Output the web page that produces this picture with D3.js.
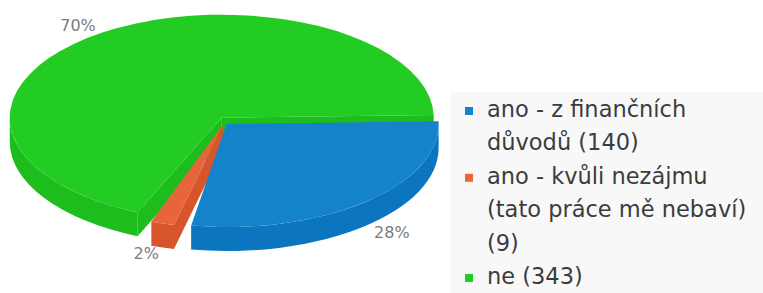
<!DOCTYPE html>
<html>
<head>
<meta charset="utf-8">
<script src="https://cdn.jsdelivr.net/npm/d3@7"></script>
<style>
    body { margin: 0; background: #fff; }
    svg { display: block; font-family: "DejaVu Sans", Verdana, sans-serif; }
</style>
</head>
<body>
<div class="canvas"></div>
<script>
// data
const categories = ["ano - z finančních důvodů", "ano - kvůli nezájmu (tato práce mě nebaví)", "ne"];
const counts = [140, 9, 343];
const topColors = ["#1583cc", "#e8643a", "#22cc22"];
const sideColors = ["#0b75bf", "#d8552b", "#1cbd1c"];

const dims = { width: 763, height: 293 };
const pieDims = { cx: 224, cy: 121, rx: 212, ry: 103, depth: 24, explode: 4, labelRx: 225, labelRy: 103 };
const legendDims = { x: 450, y: 92, width: 313, height: 201, lineHeight: 33.4, textWidth: 268 };

const svg = d3
    .select(".canvas")
    .append("svg")
    .attr("width", dims.width)
    .attr("height", dims.height);

const deg = Math.PI / 180;
const start = Math.PI / 2 - 1.5 * deg; // first slice starts just above 3 o'clock
const pad = 3.7 * deg;
const total = d3.sum(counts);
const pct = d3.format(".0%");

const pie = d3
    .pie()
    .sort(null)
    .startAngle(start)
    .endAngle(start + 2 * Math.PI)
    .padAngle(pad);

const n = counts.length;
const slices = pie(counts).map((d, i) => {
    // gaps only between neighbours, the last slice closes onto the first one
    const a0 = d.startAngle + (i > 0 ? d.padAngle / 2 : 0);
    const a1 = d.endAngle - (i < n - 1 ? d.padAngle / 2 : 0);
    const mid = (a0 + a1) / 2;
    return {
        ...d, i, a0, a1, mid,
        cx: pieDims.cx + pieDims.explode * Math.sin(mid),
        cy: pieDims.cy - pieDims.explode * Math.cos(mid)
    };
});

const { rx, ry, depth } = pieDims;
const pt = (s, a, dz) => [s.cx + rx * Math.sin(a), s.cy - ry * Math.cos(a) + dz];

function sidePath(s, b0, b1) {
    const large = b1 - b0 > Math.PI ? 1 : 0;
    return `M${pt(s, b0, 0)} A${rx},${ry} 0 ${large} 1 ${pt(s, b1, 0)}` +
        ` L${pt(s, b1, depth)} A${rx},${ry} 0 ${large} 0 ${pt(s, b0, depth)} Z`;
}

function wallPath(s, a) {
    return `M${s.cx},${s.cy} L${pt(s, a, 0)} L${pt(s, a, depth)} L${s.cx},${s.cy + depth} Z`;
}

// back slices first
const order = slices.slice().sort((a, b) => -Math.cos(a.mid) - -Math.cos(b.mid));

const sides = svg.append("g");
order.forEach((s) => {
    const g = sides.append("g").attr("fill", sideColors[s.i]);
    if (Math.sin(s.a0) < 0) g.append("path").attr("d", wallPath(s, s.a0));
    if (Math.sin(s.a1) > 0) g.append("path").attr("d", wallPath(s, s.a1));
    // front half of the rim: angles between PI/2 and 3PI/2 (mod 2PI)
    for (let k = 0; k < 2; k++) {
        const f0 = Math.max(s.a0, Math.PI / 2 + 2 * Math.PI * k);
        const f1 = Math.min(s.a1, 1.5 * Math.PI + 2 * Math.PI * k);
        if (f1 > f0) g.append("path").attr("d", sidePath(s, f0, f1));
    }
});

const arcGen = d3.arc().innerRadius(0).outerRadius(rx);

svg.append("g")
    .selectAll("path")
    .data(slices)
    .enter()
    .append("path")
    .attr("transform", (s) => `translate(${s.cx},${s.cy}) scale(1,${ry / rx})`)
    .attr("fill", (s) => topColors[s.i])
    .attr("d", (s) => arcGen({ startAngle: s.a0, endAngle: s.a1 }));

// percent labels, box corner sits on a slightly larger ellipse
const labelSize = 16;
svg.append("g")
    .selectAll("text")
    .data(slices)
    .enter()
    .append("text")
    .attr("x", (s) => s.cx + pieDims.labelRx * Math.sin(s.mid))
    .attr("y", (s) => {
        const down = -Math.cos(s.mid);
        const y = s.cy + pieDims.labelRy * down;
        return down > 0 ? y + depth + labelSize * 0.73 : y - 1;
    })
    .attr("text-anchor", (s) => (Math.sin(s.mid) < 0 ? "end" : "start"))
    .attr("font-size", labelSize)
    .attr("fill", "#7c7c7c")
    .text((s) => pct(s.value / total));

// legend
const legend = svg.append("g").attr("transform", `translate(${legendDims.x},${legendDims.y})`);
legend.append("rect")
    .attr("width", legendDims.width)
    .attr("height", legendDims.height)
    .attr("fill", "#f8f8f8");

const measure = legend.append("text").attr("font-size", 22.5);
function wrap(str) {
    const words = str.split(" ");
    const lines = [];
    let line = "";
    words.forEach((w) => {
        const test = line ? line + " " + w : w;
        measure.text(test);
        if (line && measure.node().getComputedTextLength() > legendDims.textWidth) {
            lines.push(line);
            line = w;
        } else {
            line = test;
        }
    });
    lines.push(line);
    return lines;
}

let row = 0;
categories.forEach((c, i) => {
    const lines = wrap(`${c} (${counts[i]})`);
    const y0 = 25 + row * legendDims.lineHeight;
    legend.append("rect")
        .attr("x", 15)
        .attr("y", y0 - 10)
        .attr("width", 8)
        .attr("height", 8)
        .attr("fill", topColors[i]);
    const t = legend.append("text")
        .attr("x", 37)
        .attr("y", y0)
        .attr("font-size", 22.5)
        .attr("fill", "#3c3c3c");
    lines.forEach((l, j) => {
        t.append("tspan")
            .attr("x", 37)
            .attr("y", y0 + j * legendDims.lineHeight)
            .text(l);
    });
    row += lines.length;
});
measure.remove();
</script>
</body>
</html>
